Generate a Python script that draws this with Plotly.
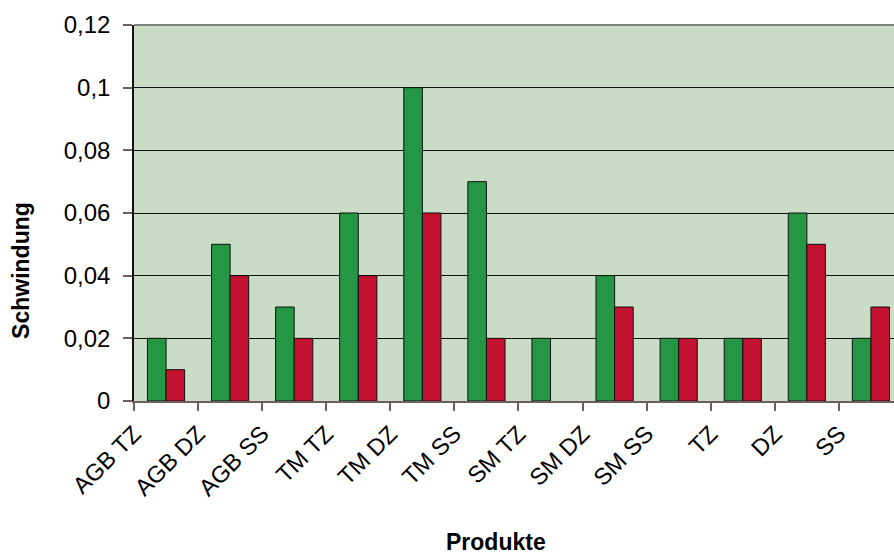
import plotly.graph_objects as go

# Produkt categories and shrinkage values (two series per product)
produkte = ["AGB TZ", "AGB DZ", "AGB SS", "TM TZ", "TM DZ", "TM SS",
            "SM TZ", "SM DZ", "SM SS", "TZ", "DZ", "SS"]
reihe_1 = [0.02, 0.05, 0.03, 0.06, 0.10, 0.07, 0.02, 0.04, 0.02, 0.02, 0.06, 0.02]
reihe_2 = [0.01, 0.04, 0.02, 0.04, 0.06, 0.02, None, 0.03, 0.02, 0.02, 0.05, 0.03]
y_ticks = [0, 0.02, 0.04, 0.06, 0.08, 0.10, 0.12]
y_tick_text = ["0", "0,02", "0,04", "0,06", "0,08", "0,1", "0,12"]

# bars sit in the middle of each category slot; ticks/labels at slot edges
slot_centers = [i + 0.5 for i in range(len(produkte))]
slot_edges = list(range(len(produkte)))

GREEN = "#259643"
RED = "#c31230"
FONT = "Liberation Sans, Arial, sans-serif"

fig = go.Figure()
fig.add_trace(go.Bar(x=slot_centers, y=reihe_1, name="Reihe 1",
                     marker=dict(color=GREEN, line=dict(color="#111111", width=1))))
fig.add_trace(go.Bar(x=slot_centers, y=reihe_2, name="Reihe 2",
                     marker=dict(color=RED, line=dict(color="#111111", width=1))))

fig.update_layout(
    width=894, height=556,
    margin=dict(l=134, r=0, t=25, b=155),
    paper_bgcolor="white",
    plot_bgcolor="#c9dcc5",
    barmode="group",
    bargap=0.42,
    bargroupgap=0,
    showlegend=False,
    font=dict(family=FONT, color="black"),
    xaxis=dict(
        range=[0, 11.86],
        tickmode="array", tickvals=slot_edges, ticktext=produkte,
        tickangle=-45, tickfont=dict(size=23.5),
        ticks="outside", ticklen=8, tickcolor="#6e5e5e", tickwidth=1.5,
        showgrid=False, zeroline=False,
        showline=True, linecolor="#6e5e5e", linewidth=1.5,
    ),
    yaxis=dict(
        range=[0, 0.12],
        tickmode="array", tickvals=y_ticks, ticktext=y_tick_text,
        tickfont=dict(size=24),
        ticks="outside", ticklen=9, tickcolor="#6e5e5e", tickwidth=1.5,
        ticklabelstandoff=8,
        showgrid=True, gridcolor="#111111", gridwidth=1.2,
        zeroline=False,
        showline=True, linecolor="#111111", linewidth=1.5,
    ),
    annotations=[
        dict(text="<b>Schwindung</b>", textangle=-90, showarrow=False,
             xref="paper", yref="paper", x=-0.149, y=0.348,
             xanchor="center", yanchor="middle", font=dict(size=23)),
        dict(text="<b>Produkte</b>", showarrow=False,
             xref="paper", yref="paper", x=0.476, y=-0.376,
             xanchor="center", yanchor="middle", font=dict(size=23)),
    ],
    shapes=[
        dict(type="line", xref="paper", yref="paper", x0=0, x1=1, y0=1, y1=1,
             line=dict(color="#808080", width=2)),
    ],
)

fig.write_html("out.html")
